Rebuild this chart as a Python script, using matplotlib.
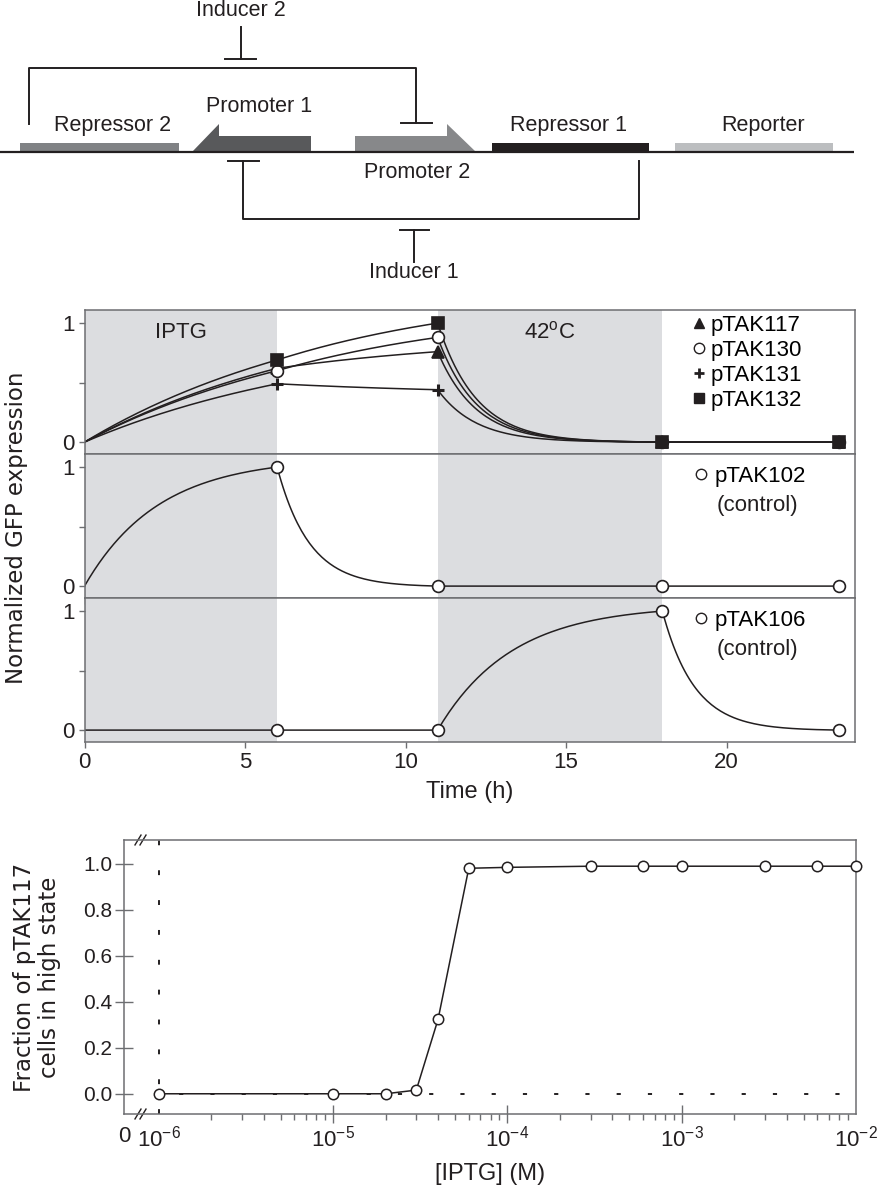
import numpy as np
import matplotlib
matplotlib.use("Agg")
import matplotlib.pyplot as plt
from matplotlib.lines import Line2D
from matplotlib.patches import Rectangle, Polygon

plt.rcParams['font.family'] = ['Liberation Sans', 'DejaVu Sans']
plt.rcParams['mathtext.fontset'] = 'custom'
plt.rcParams['mathtext.rm'] = 'Liberation Sans'
plt.rcParams['mathtext.it'] = 'Liberation Sans:italic'
plt.rcParams['lines.scale_dashes'] = False

# ---------------- data ----------------
times = [0, 6, 11, 18, 23.5]
iptg_window = [0, 6]
heat_window = [11, 18]

ptak117 = [0, 0.62, 0.76, 0.0, 0.0]
ptak130 = [0, 0.60, 0.88, 0.0, 0.0]
ptak131 = [0, 0.49, 0.44, 0.0, 0.0]
ptak132 = [0, 0.69, 1.00, 0.0, 0.0]
ptak102 = [0, 1.00, 0.0, 0.0, 0.0]
ptak106 = [0, 0.0, 0.0, 1.00, 0.0]

# time constants of the drawn connecting curves (per segment)
tau_p1 = [8, 7, 1.2, 1.0]
tau_102 = [2.3, 1.0, 1.0, 1.0]
tau_106 = [1.0, 1.0, 2.3, 1.0]

iptg_conc = [1e-6, 1e-5, 2e-5, 3e-5, 4e-5, 6e-5, 1e-4, 3e-4, 6e-4, 1e-3, 3e-3, 6e-3, 1e-2]
frac_high = [0.0, 0.0, 0.0, 0.016, 0.324, 0.981, 0.985, 0.99, 0.99, 0.99, 0.99, 0.99, 0.99]

time_ticks = [0, 5, 10, 15, 20]
conc_ticks = [10**-6.2, 1e-6, 1e-5, 1e-4, 1e-3, 1e-2]
conc_labels = ['0', r'$\mathregular{10^{-6}}$', r'$\mathregular{10^{-5}}$',
               r'$\mathregular{10^{-4}}$', r'$\mathregular{10^{-3}}$', r'$\mathregular{10^{-2}}$']
frac_ticks = [0.0, 0.2, 0.4, 0.6, 0.8, 1.0]

# ---------------- helpers ----------------
W, H = 884, 1186
fig = plt.figure(figsize=(W / 100, H / 100), dpi=100)

def fx(px):
    return px / W

def fy(py):
    return 1 - py / H

def connect(t, y, taus, n=80):
    tt, yy = [], []
    for i in range(len(t) - 1):
        t0, t1, y0, y1, tau = t[i], t[i + 1], y[i], y[i + 1], taus[i]
        s = np.linspace(t0, t1, n)
        shape = (1 - np.exp(-(s - t0) / tau)) / (1 - np.exp(-(t1 - t0) / tau))
        tt.append(s)
        yy.append(y0 + (y1 - y0) * shape)
    return np.concatenate(tt), np.concatenate(yy)

INK = '#231f20'
SPINE = '#6d6e71'
SHADE = '#dcdde0'

# ---------------- schematic ----------------
axd = fig.add_axes([0, fy(300), 1, 300 / H])
axd.set_xlim(0, W)
axd.set_ylim(300, 0)
axd.axis('off')
lw_d = 1.4
axd.plot([0, 854], [152, 152], color=INK, lw=1.6, solid_capstyle='butt')
axd.add_patch(Rectangle((20, 143), 159, 9, color='#808285', lw=0))
axd.add_patch(Polygon([(192, 152), (219, 124), (219, 136), (311, 136), (311, 152)], closed=True, color='#58595b', lw=0))
axd.add_patch(Polygon([(355, 152), (355, 136), (447, 136), (447, 124), (476, 152)], closed=True, color='#87888a', lw=0))
axd.add_patch(Rectangle((492, 143), 157, 9, color=INK, lw=0))
axd.add_patch(Rectangle((675, 143), 158, 9, color='#bcbec0', lw=0))
axd.plot([29, 29, 416, 416], [124, 68, 68, 123], color=INK, lw=lw_d)
axd.plot([401, 432], [123, 123], color=INK, lw=lw_d)
axd.plot([241, 241], [27, 59], color=INK, lw=lw_d)
axd.plot([225, 256], [59, 59], color=INK, lw=lw_d)
axd.plot([228, 259], [161, 161], color=INK, lw=lw_d)
axd.plot([243, 243, 639, 639], [161, 219, 219, 161], color=INK, lw=lw_d)
axd.plot([400, 429], [230, 230], color=INK, lw=lw_d)
axd.plot([414, 414], [230, 262], color=INK, lw=lw_d)
fs_d = 15.5
axd.text(241, 11, 'Inducer 2', ha='center', va='center', fontsize=fs_d, color=INK)
axd.text(414, 272, 'Inducer 1', ha='center', va='center', fontsize=fs_d, color=INK)
axd.text(113, 125, 'Repressor 2', ha='center', va='center', fontsize=fs_d, color=INK)
axd.text(259, 106, 'Promoter 1', ha='center', va='center', fontsize=fs_d, color=INK)
axd.text(417, 172, 'Promoter 2', ha='center', va='center', fontsize=fs_d, color=INK)
axd.text(569, 125, 'Repressor 1', ha='center', va='center', fontsize=fs_d, color=INK)
axd.text(763, 125, 'Reporter', ha='center', va='center', fontsize=fs_d, color=INK)

# ---------------- time course panels ----------------
left, right = 84.5, 855
panel_px = [(310, 454), (454, 598), (598, 742)]
axes = []
for (top, bot) in panel_px:
    ax = fig.add_axes([fx(left), fy(bot), fx(right - left), (bot - top) / H])
    ax.set_xlim(0, 24)
    ax.set_ylim(-0.1, 1.11)
    ax.axvspan(*iptg_window, color=SHADE, lw=0, zorder=0)
    ax.axvspan(*heat_window, color=SHADE, lw=0, zorder=0)
    for sp in ax.spines.values():
        sp.set_color(SPINE)
        sp.set_linewidth(1.1)
    ax.set_xticks(time_ticks)
    ax.set_yticks([0, 0.5, 1])
    ax.set_yticklabels(['0', '', '1'])
    ax.tick_params(direction='out', length=4, width=1.0, color=SPINE, labelsize=16,
                   labelcolor=INK, pad=3)
    axes.append(ax)

ax1, ax2, ax3 = axes
ax1.tick_params(labelbottom=False)
ax2.tick_params(labelbottom=False)

ms = 8.5
series = [
    (ptak117, dict(marker='^', mfc=INK, mec=INK), 'pTAK117'),
    (ptak130, dict(marker='o', mfc='white', mec=INK), 'pTAK130'),
    (ptak131, dict(marker='+', mfc=INK, mec=INK, mew=2.2), 'pTAK131'),
    (ptak132, dict(marker='s', mfc=INK, mec=INK), 'pTAK132'),
]
for vals, mk, lab in series:
    tt, yy = connect(times, vals, tau_p1)
    ax1.plot(tt, yy, color=INK, lw=1.1, zorder=2)
for vals, mk, lab in series:
    kw = dict(mk)
    kw.setdefault('mew', 1.2)
    ax1.plot(times[1:], vals[1:], ls='none', ms=ms, zorder=3, clip_on=False, **kw)

handles = []
for vals, mk, lab in series:
    kw = dict(mk)
    kw['mew'] = 2.0 if mk['marker'] == '+' else 1.0
    handles.append(Line2D([], [], ls='none', ms=7.5, **kw))
ax1.legend(handles, [s[2] for s in series], loc='upper left', bbox_to_anchor=(0.786, 0.965),
           frameon=False, fontsize=16, handlelength=0.8, handletextpad=0.1,
           labelspacing=0.18, borderpad=0, borderaxespad=0)

ax1.text(np.mean(iptg_window), 0.847, 'IPTG', transform=ax1.get_xaxis_transform(),
         ha='center', va='center', fontsize=16, color=INK)
ax1.text(np.mean(heat_window), 0.847, r'42$^{\mathregular{o}}$C', transform=ax1.get_xaxis_transform(),
         ha='center', va='center', fontsize=16, color=INK)

for ax, vals, taus, mark_idx, lab in [
        (ax2, ptak102, tau_102, [1, 2, 3, 4], 'pTAK102'),
        (ax3, ptak106, tau_106, [1, 2, 3, 4], 'pTAK106')]:
    tt, yy = connect(times, vals, taus)
    ax.plot(tt, yy, color=INK, lw=1.1, zorder=2)
    ax.plot([times[i] for i in mark_idx], [vals[i] for i in mark_idx], ls='none',
            marker='o', ms=ms, mfc='white', mec=INK, mew=1.2, zorder=3, clip_on=False)
    h = [Line2D([], [], ls='none', marker='o', ms=7.5, mfc='white', mec=INK, mew=1.0)]
    ax.legend(h, [lab], loc='upper left', bbox_to_anchor=(0.788, 0.92), frameon=False,
              fontsize=16, handlelength=0.8, handletextpad=0.25, borderpad=0, borderaxespad=0)
    ax.text(0.821, 0.642, '(control)', transform=ax.transAxes, ha='left', va='center',
            fontsize=16, color=INK)

ax3.set_xlabel('Time (h)', fontsize=17, color=INK, labelpad=6)
fig.text(fx(17), fy(528), 'Normalized GFP expression', rotation=90, ha='center', va='center',
         fontsize=16.5, color=INK, family='DejaVu Sans')

# ---------------- dose response ----------------
ax4 = fig.add_axes([fx(124), fy(1114), fx(856 - 124), (1114 - 840) / H])
ax4.set_xscale('log')
ax4.set_xlim(10**-6.2, 1e-2)
ax4.set_ylim(-0.088, 1.104)
for sp in ax4.spines.values():
    sp.set_color(SPINE)
    sp.set_linewidth(1.1)
ax4.axvline(iptg_conc[0], color=INK, lw=1.4, ls=(0, (3.5, 18)), zorder=1)
ax4.plot([iptg_conc[0], iptg_conc[-1]], [0, 0], color=INK, lw=1.4, ls=(8, (3, 19.5)), zorder=1)
ax4.plot(iptg_conc, frac_high, color=INK, lw=1.1, marker='o', ms=7.5, mfc='white', mec=INK,
         mew=1.1, zorder=3, clip_on=False)
ax4.set_xticks(conc_ticks)
ax4.set_xticklabels(conc_labels)
ax4.set_xticks([m * 10.0**e for e in range(-6, -2) for m in range(2, 10)], minor=True)
ax4.xaxis.set_minor_formatter(matplotlib.ticker.NullFormatter())
ax4.set_yticks(frac_ticks)
ax4.set_yticklabels(['%.1f' % v for v in frac_ticks])
ax4.tick_params(axis='x', which='major', direction='inout', length=13, width=1.0, color=SPINE,
                labelsize=16, labelcolor=INK, pad=2)
ax4.tick_params(axis='x', which='minor', direction='out', length=4, width=1.0, color=SPINE)
ax4.tick_params(axis='y', direction='inout', length=13, width=1.0, color=SPINE,
                labelsize=15, labelcolor=INK, pad=2)
mt = ax4.xaxis.get_major_ticks()
for i in (0, 1, 5):
    mt[i].tick1line.set_visible(False)
# axis break marks
for yb in (0, 1):
    for dx in (-4, 1):
        xb = fx(142 + dx)
        ax4.plot([(142 + dx - 124 - 3) / (856 - 124), (142 + dx - 124 + 3) / (856 - 124)],
                 [yb - 0.018, yb + 0.018], transform=ax4.transAxes, color=INK, lw=1.0,
                 clip_on=False)
ax4.set_xlabel('[IPTG] (M)', fontsize=17, color=INK, labelpad=8)
fig.text(fx(37), fy(977), 'Fraction of pTAK117\ncells in high state', rotation=90,
         ha='center', va='center', fontsize=16.5, color=INK, family='DejaVu Sans',
         multialignment='center', linespacing=1.15)

fig.savefig('out.png', dpi=100)
